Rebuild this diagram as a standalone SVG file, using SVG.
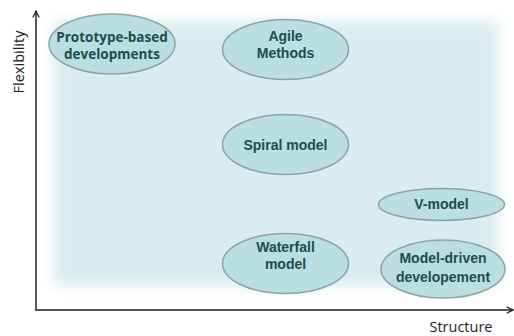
<svg xmlns="http://www.w3.org/2000/svg" width="514" height="336" viewBox="0 0 514 336">
<style>
.node ellipse{fill:#b9dfe2;stroke:#8ea3a4;stroke-width:1.5}
.lbl{font-family:"Liberation Sans",Arial,sans-serif;font-weight:bold;font-size:14px;fill:#234a4f;text-anchor:middle}
.lbl2{font-family:"Open Sans","Noto Sans",sans-serif;font-weight:bold;font-size:13.5px;fill:#234a4f;text-anchor:middle}
.axis{font-family:"Open Sans","Noto Sans",sans-serif;font-size:14.5px;fill:#222}
</style>
<defs>
<filter id="blur" x="-10%" y="-10%" width="120%" height="120%"><feGaussianBlur stdDeviation="7"/></filter>
<marker id="arr" viewBox="0 0 10 10" refX="9" refY="5" markerWidth="8" markerHeight="8" orient="auto" markerUnits="userSpaceOnUse"><path d="M1,1 L9,5 L1,9" fill="none" stroke="#222" stroke-width="1.5"/></marker>
</defs>
<rect x="0" y="0" width="514" height="336" fill="#fff"/>
<rect x="54" y="21" width="444" height="265" fill="#d9ecef" filter="url(#blur)"/>
<g id="connectors">
<line x1="36" y1="310" x2="36" y2="11" stroke="#222" stroke-width="1.5" marker-end="url(#arr)"/>
<line x1="35" y1="310" x2="513" y2="310" stroke="#555" stroke-width="2" marker-end="url(#arr)"/>
</g>
<text class="axis" transform="translate(24,62) rotate(-90)" text-anchor="middle">Flexibility</text>
<text class="axis" x="461" y="332" text-anchor="middle">Structure</text>
<g id="prototype" class="node"><ellipse cx="112" cy="44" rx="63" ry="30"/><text class="lbl2" x="112" y="41.5">Prototype-based</text><text class="lbl2" x="112" y="58.5">developments</text></g>
<g id="agile" class="node"><ellipse cx="285.5" cy="49.5" rx="63" ry="30"/><text class="lbl" x="285.5" y="41">Agile</text><text class="lbl" x="285.5" y="58">Methods</text></g>
<g id="spiral" class="node"><ellipse cx="285.5" cy="144.5" rx="63" ry="30"/><text class="lbl" x="285.5" y="150">Spiral model</text></g>
<g id="vmodel" class="node"><ellipse cx="441.5" cy="204.5" rx="63" ry="16"/><text class="lbl" x="441.5" y="209">V-model</text></g>
<g id="waterfall" class="node"><ellipse cx="285.5" cy="263.5" rx="63" ry="30"/><text class="lbl" x="285.5" y="252">Waterfall</text><text class="lbl" x="285.5" y="269">model</text></g>
<g id="modeldriven" class="node"><ellipse cx="443" cy="269" rx="62" ry="29"/><text class="lbl" x="443" y="263">Model-driven</text><text class="lbl" x="443" y="282">developement</text></g>
</svg>
